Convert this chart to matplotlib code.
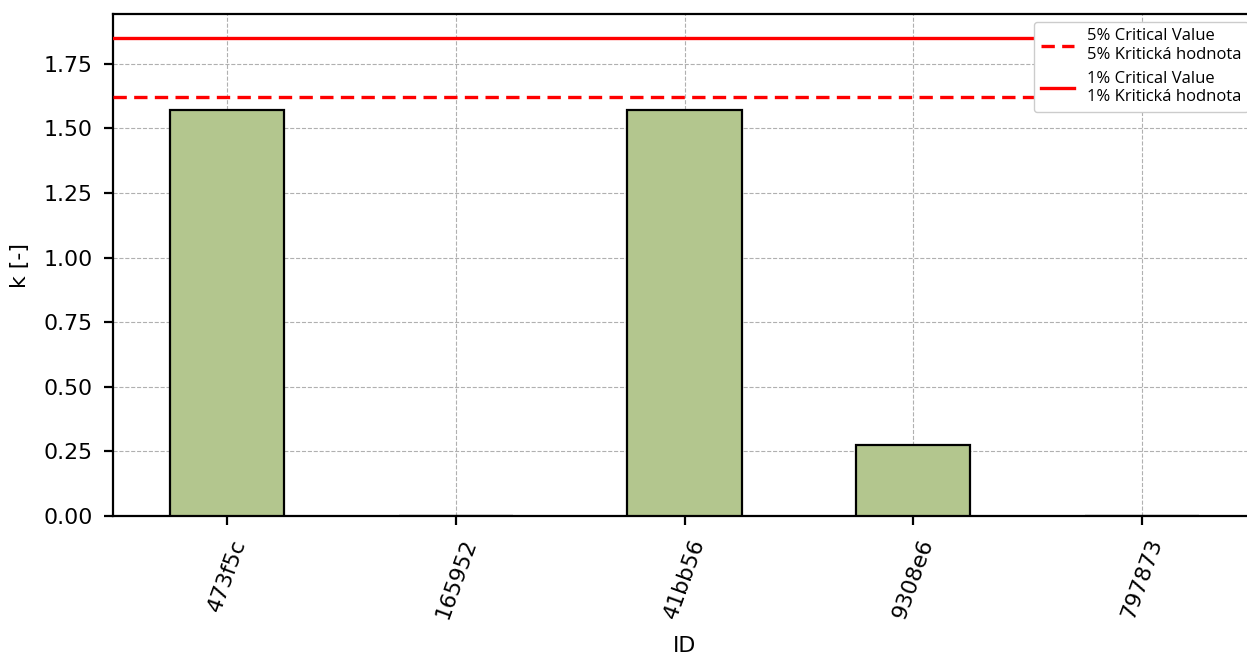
import numpy as np
import matplotlib
matplotlib.use("Agg")
import matplotlib.pyplot as plt

# k statistic per sample ID
ids = ["473f5c", "165952", "41bb56", "9308e6", "797873"]
k_values = [1.572, 0.0, 1.572, 0.275, 0.0]

crit_5 = 1.622
crit_1 = 1.85

plt.rcParams["font.size"] = 15.8

fig = plt.figure(figsize=(12.47, 6.55), dpi=100)
# axes run slightly past the right edge of the canvas
ax = fig.add_axes([113 / 1247, 139 / 655, 1143 / 1247, 502 / 655])

x = np.arange(len(ids))
ax.bar(x, k_values, width=0.5, color="#b3c68e", edgecolor="black",
       linewidth=1.6, zorder=3)

ax.axhline(crit_5, color="red", linestyle="--", linewidth=2.4, dashes=(4, 2.2),
           label="5% Critical Value\n5% Kritická hodnota", zorder=4)
ax.axhline(crit_1, color="red", linestyle="-", linewidth=2.4,
           label="1% Critical Value\n1% Kritická hodnota", zorder=4)

ax.set_xticks(x)
ax.set_xticklabels(ids, rotation=70)
ax.set_yticks([0, 0.25, 0.5, 0.75, 1.0, 1.25, 1.5, 1.75])
ax.set_xlim(-0.5, 4.5)
ax.set_ylim(0, crit_1 * 1.05)

ax.grid(True, linestyle="--", color="#b0b0b0", linewidth=0.8, zorder=0)
for s in ax.spines.values():
    s.set_linewidth(1.6)
ax.tick_params(width=1.6, length=6.5, pad=8)

ax.set_xlabel("ID", labelpad=10)
ax.set_ylabel("k [-]", labelpad=10)

leg = ax.legend(loc="upper right", prop={"family": "Open Sans", "size": 12},
                handlelength=2.0, borderaxespad=0.45, framealpha=1.0,
                labelspacing=0.5)
leg.set_zorder(10)

fig.savefig("out.png", dpi=100)
